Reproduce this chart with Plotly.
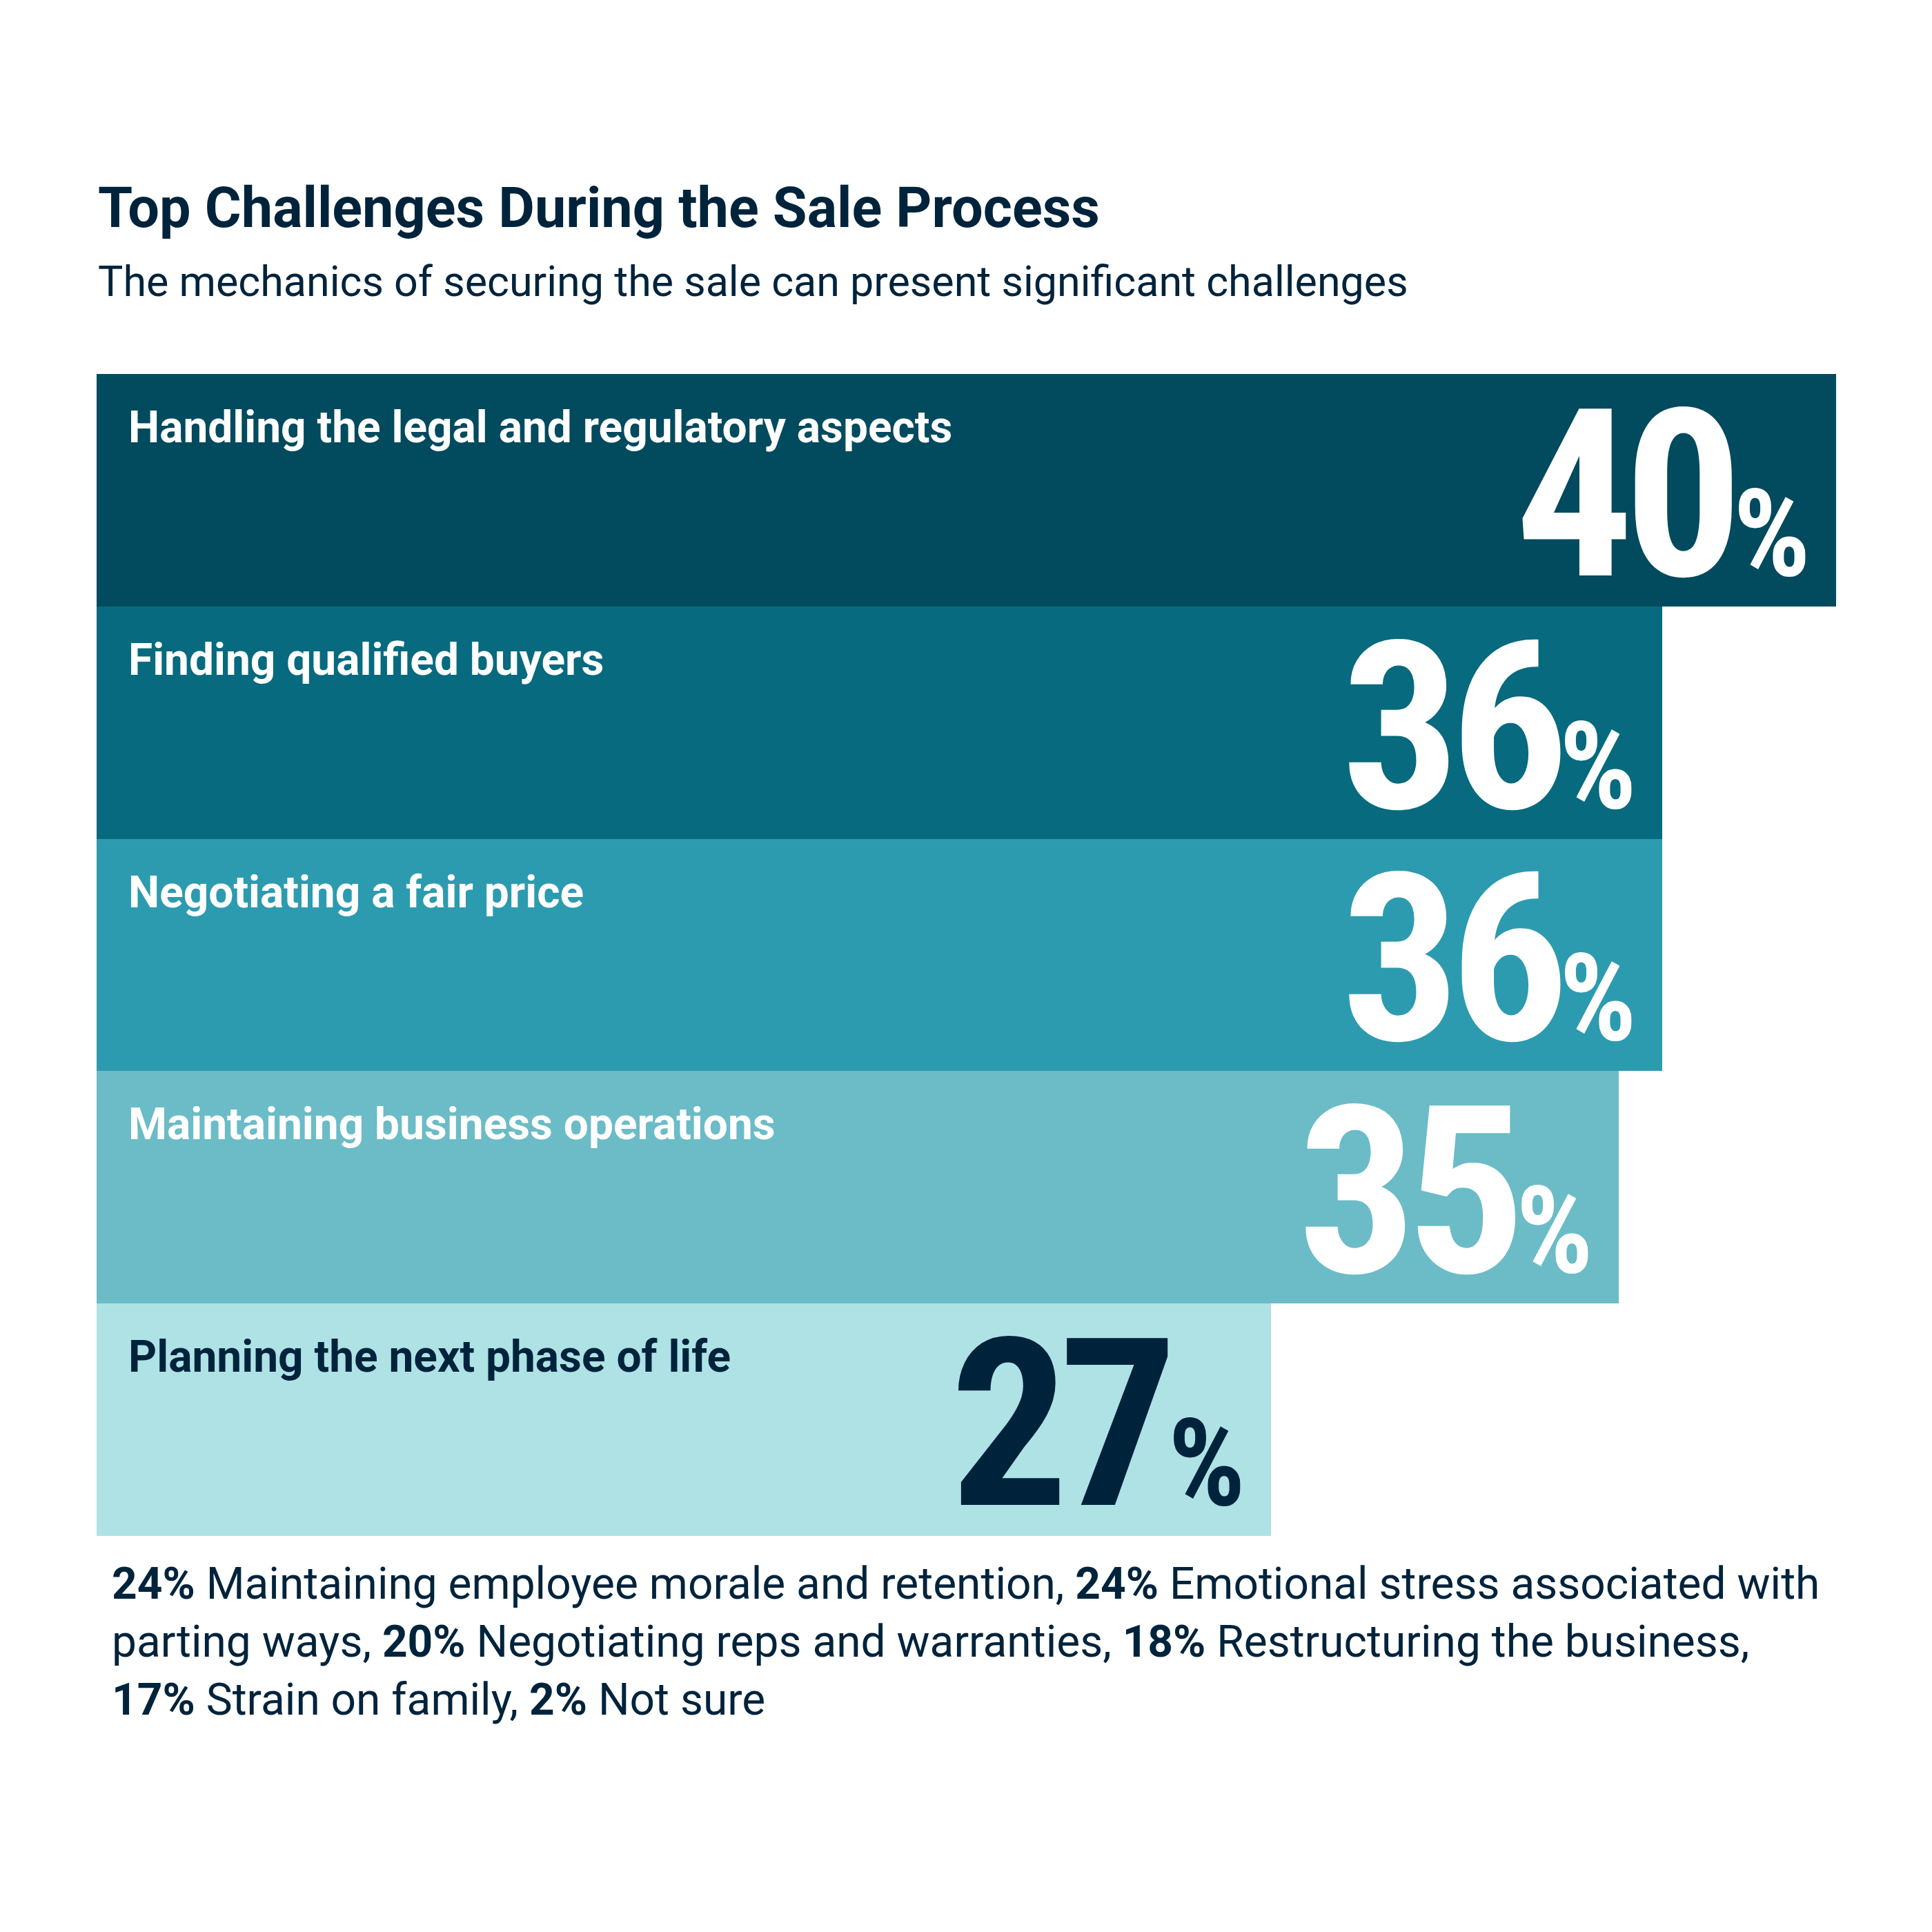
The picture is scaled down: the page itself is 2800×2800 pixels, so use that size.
import re
import textwrap
import plotly.graph_objects as go

# main challenges (top to bottom)
challenges = [
    "Handling the legal and regulatory aspects",
    "Finding qualified buyers",
    "Negotiating a fair price",
    "Maintaining business operations",
    "Planning the next phase of life",
]
shares = [40, 36, 36, 35, 27]
bar_colors = ["#024a5e", "#076a7e", "#2d9baf", "#6bbcc7", "#aee2e5"]
text_colors = ["#ffffff", "#ffffff", "#ffffff", "#ffffff", "#00233c"]

# smaller challenges listed under the chart
other_shares = [24, 24, 20, 18, 17, 2]
other_labels = [
    "Maintaining employee morale and retention",
    "Emotional stress associated with parting ways",
    "Negotiating reps and warranties",
    "Restructuring the business",
    "Strain on family",
    "Not sure",
]

title = "Top Challenges During the Sale Process"
subtitle = "The mechanics of securing the sale can present significant challenges"

navy = "#00233c"
font_main = "Roboto, Arial, sans-serif"
font_big = "Roboto Condensed, Roboto, sans-serif"

W = H = 2800
off = 8  # page body margin
top_px, bottom_px = 542, 2226  # bar block, in picture pixels
bar_px = (bottom_px - top_px) / len(challenges)
big_size = 340

fig = go.Figure()
fig.add_trace(go.Bar(
    x=shares,
    y=challenges,
    orientation="h",
    marker=dict(color=bar_colors, line=dict(width=0)),
    hoverinfo="skip",
))

annotations = []
for name, val, tc in zip(challenges, shares, text_colors):
    annotations.append(dict(
        x=0, y=name, xref="x", yref="y",
        xanchor="left", yanchor="top",
        xshift=44, yshift=bar_px / 2 - 38,
        text="<b>" + name + "</b>",
        showarrow=False,
        font=dict(family=font_main, size=64, color=tc),
    ))
    annotations.append(dict(
        x=val, y=name, xref="x", yref="y",
        xanchor="right", yanchor="bottom", valign="bottom",
        xshift=-44, yshift=-bar_px / 2 - 38,
        height=330, borderpad=0, borderwidth=0,
        text="<span style='letter-spacing:-14px'>%d<span style='font-size:176px'>%%</span></span>" % val,
        showarrow=False,
        font=dict(family=font_big, size=big_size, color=tc, weight=700),
    ))

annotations.append(dict(
    x=(140 - off) / W, y=1 - (302 - off) / H, xref="paper", yref="paper",
    xanchor="left", yanchor="middle",
    text="<b>" + title + "</b>", showarrow=False,
    font=dict(family=font_main, size=81, color=navy),
))
annotations.append(dict(
    x=(140 - off) / W, y=1 - (408 - off) / H, xref="paper", yref="paper",
    xanchor="left", yanchor="middle",
    text=subtitle, showarrow=False,
    font=dict(family=font_main, size=61, color=navy),
))

# footer: wrap the list of other answers, bold the percentages
footer = ", ".join("%d%% %s" % (s, l) for s, l in zip(other_shares, other_labels))
lines = textwrap.wrap(footer, 84)
for i, line in enumerate(lines):
    line = re.sub(r"(\d+%)", r"<b>\1</b>", line)
    annotations.append(dict(
        x=(160 - off) / W, y=1 - (2295 - off + i * 84) / H, xref="paper", yref="paper",
        xanchor="left", yanchor="middle",
        text=line, showarrow=False,
        font=dict(family=font_main, size=64, color=navy),
    ))

fig.update_layout(
    width=W, height=H,
    margin=dict(l=0, r=0, t=0, b=0),
    paper_bgcolor="white", plot_bgcolor="white",
    bargap=0,
    showlegend=False,
    annotations=annotations,
    xaxis=dict(range=[0, 40], domain=[(140 - off) / W, (2661 - off) / W],
               visible=False, fixedrange=True),
    yaxis=dict(range=[4.5, -0.5], domain=[1 - (bottom_px - off) / H, 1 - (top_px - off) / H],
               visible=False, fixedrange=True),
)

fig.write_html("out.html")
